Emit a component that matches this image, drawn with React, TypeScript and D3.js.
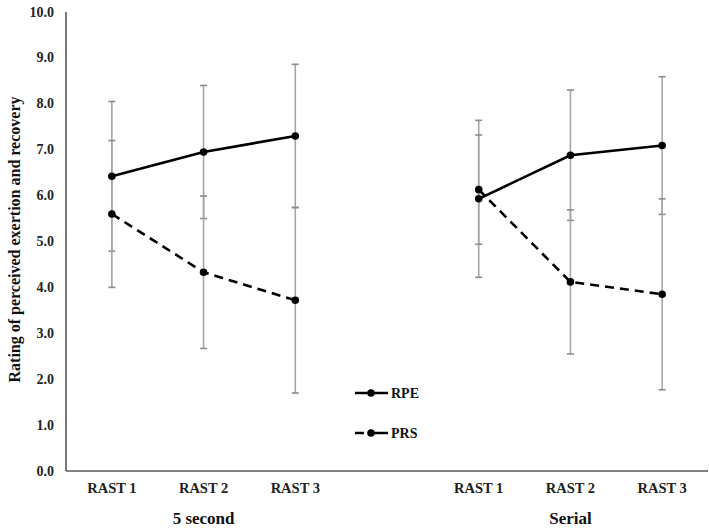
import React from "react";
import * as d3 from "d3";

const categories = ["RAST 1", "RAST 2", "RAST 3"];
const groups = ["5 second", "Serial"];
const yTicks = [0, 1, 2, 3, 4, 5, 6, 7, 8, 9, 10];

const rpeMean5 = [6.42, 6.95, 7.3];
const rpeSD5 = [1.63, 1.45, 1.56];
const prsMean5 = [5.6, 4.33, 3.72];
const prsSD5 = [1.6, 1.66, 2.02];

const rpeMeanSerial = [5.93, 6.88, 7.09];
const rpeSDSerial = [1.71, 1.42, 1.5];
const prsMeanSerial = [6.13, 4.12, 3.85];
const prsSDSerial = [1.19, 1.57, 2.08];

const seriesNames = ["RPE", "PRS"];

const W = 709;
const H = 530;
const left = 66;
const right = 708;
const top = 12;
const bottom = 471;

const FONT = "'Liberation Serif', 'Times New Roman', serif";

export default function App() {
  const slots = [
    ...categories.map((c) => groups[0] + "|" + c),
    "gap",
    ...categories.map((c) => groups[1] + "|" + c),
  ];
  const xBand = d3.scaleBand<string>().domain(slots).range([left, right]);
  const xc = (g: string, c: string) => (xBand(g + "|" + c) as number) + xBand.bandwidth() / 2;
  const y = d3.scaleLinear().domain([0, 10]).range([bottom, top]);

  const data = [
    { group: groups[0], rpe: rpeMean5, rpeSD: rpeSD5, prs: prsMean5, prsSD: prsSD5 },
    { group: groups[1], rpe: rpeMeanSerial, rpeSD: rpeSDSerial, prs: prsMeanSerial, prsSD: prsSDSerial },
  ];

  const line = d3
    .line<[number, number]>()
    .x((d) => d[0])
    .y((d) => d[1]);

  const errColor = "#a6a6a6";
  const capColor = "#8c8c8c";

  const errorBars: JSX.Element[] = [];
  const lines: JSX.Element[] = [];
  const markers: JSX.Element[] = [];

  data.forEach((g, gi) => {
    const sets = [
      { mean: g.rpe, sd: g.rpeSD, dash: undefined as string | undefined, key: "rpe" },
      { mean: g.prs, sd: g.prsSD, dash: "9,6", key: "prs" },
    ];
    sets.forEach((s) => {
      categories.forEach((c, i) => {
        const cx = xc(g.group, c);
        const hi = y(s.mean[i] + s.sd[i]);
        const lo = y(s.mean[i] - s.sd[i]);
        errorBars.push(
          <g key={`eb-${gi}-${s.key}-${i}`}>
            <line x1={cx} x2={cx} y1={hi} y2={lo} stroke={errColor} strokeWidth={1.6} />
            <line x1={cx - 3.5} x2={cx + 3.5} y1={hi} y2={hi} stroke={capColor} strokeWidth={1.6} />
            <line x1={cx - 3.5} x2={cx + 3.5} y1={lo} y2={lo} stroke={capColor} strokeWidth={1.6} />
          </g>
        );
      });
      const pts: [number, number][] = categories.map((c, i) => [xc(g.group, c), y(s.mean[i])]);
      lines.push(
        <path
          key={`ln-${gi}-${s.key}`}
          d={line(pts) || ""}
          fill="none"
          stroke="#000"
          strokeWidth={2.6}
          strokeDasharray={s.dash}
        />
      );
      pts.forEach((p, i) =>
        markers.push(<circle key={`mk-${gi}-${s.key}-${i}`} cx={p[0]} cy={p[1]} r={3.8} fill="#000" />)
      );
    });
  });

  const legendY = [393, 433];

  return (
    <svg width={W} height={H} style={{ position: "absolute", left: 0, top: 0, background: "#fff" }}>
      <rect x={0} y={0} width={W} height={H} fill="#fff" />
      <line x1={left} x2={left} y1={top} y2={bottom} stroke="#595959" strokeWidth={1.6} />
      <line x1={left} x2={right} y1={bottom} y2={bottom} stroke="#595959" strokeWidth={1.6} />
      {yTicks.map((t) => (
        <text
          key={`yt-${t}`}
          x={54}
          y={y(t)}
          textAnchor="end"
          dominantBaseline="central"
          fontFamily={FONT}
          fontWeight="bold"
          fontSize={14}
          fill="#222"
        >
          {t.toFixed(1)}
        </text>
      ))}
      <text
        transform={`translate(14, ${(top + bottom) / 2 - 2}) rotate(-90)`}
        textAnchor="middle"
        dominantBaseline="central"
        fontFamily={FONT}
        fontWeight="bold"
        fontSize={16}
        fill="#111"
      >
        Rating of perceived exertion and recovery
      </text>
      {groups.map((g) =>
        categories.map((c) => (
          <text
            key={`xl-${g}-${c}`}
            x={xc(g, c)}
            y={493}
            textAnchor="middle"
            fontFamily={FONT}
            fontWeight="bold"
            fontSize={14.5}
            fill="#222"
          >
            {c}
          </text>
        ))
      )}
      {groups.map((g) => (
        <text
          key={`gl-${g}`}
          x={xc(g, categories[1])}
          y={524}
          textAnchor="middle"
          fontFamily={FONT}
          fontWeight="bold"
          fontSize={17}
          fill="#111"
        >
          {g}
        </text>
      ))}
      {errorBars}
      {lines}
      {markers}
      {seriesNames.map((n, i) => (
        <g key={`lg-${n}`}>
          <line
            x1={355}
            x2={388}
            y1={legendY[i]}
            y2={legendY[i]}
            stroke="#000"
            strokeWidth={2.6}
            strokeDasharray={i === 1 ? "9,5,30" : undefined}
          />
          <circle cx={371} cy={legendY[i]} r={3.8} fill="#000" />
          <text
            x={391}
            y={legendY[i]}
            dominantBaseline="central"
            fontFamily={FONT}
            fontWeight="bold"
            fontSize={14}
            fill="#111"
          >
            {n}
          </text>
        </g>
      ))}
    </svg>
  );
}
